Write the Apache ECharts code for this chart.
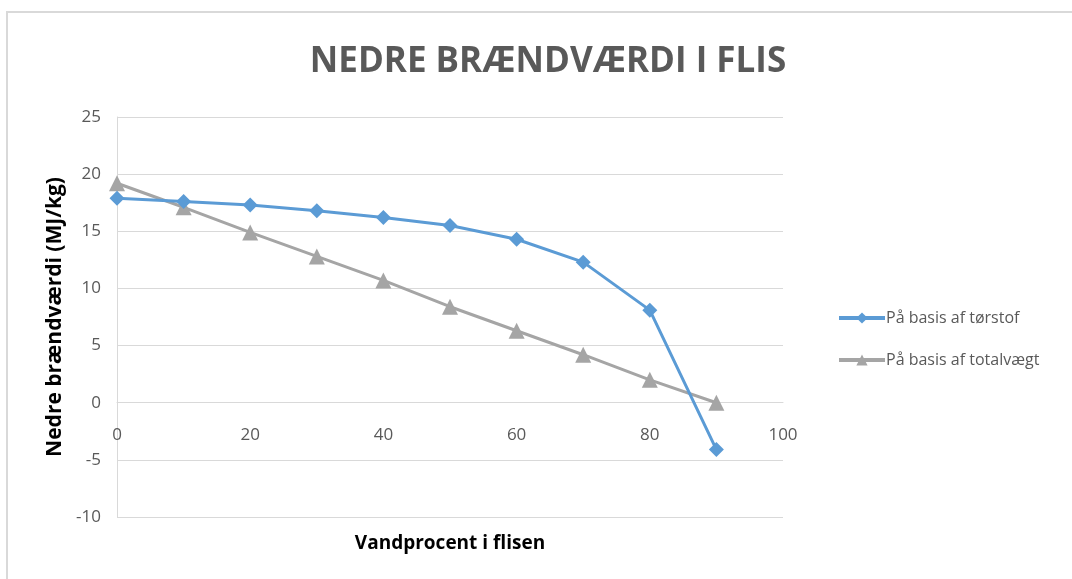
<!DOCTYPE html>
<html>
<head>
<meta charset="utf-8">
<script src="https://cdn.jsdelivr.net/npm/echarts@6/dist/echarts.min.js"></script>
<style>
  html, body { margin: 0; padding: 0; background: #fff; }
  #chart { width: 1072px; height: 579px; }
</style>
</head>
<body>
<div id="chart"></div>
<script>
// vandprocent (x) og nedre brændværdi (MJ/kg)
var vandprocent = [0, 10, 20, 30, 40, 50, 60, 70, 80, 90];
var torstof = [17.9, 17.6, 17.3, 16.8, 16.2, 15.5, 14.3, 12.3, 8.1, -4.1];
var totalvaegt = [19.2, 17.1, 14.9, 12.8, 10.7, 8.4, 6.3, 4.2, 2.0, 0];
var seriesNames = ['På basis af tørstof', 'På basis af totalvægt'];

var font = '"Open Sans", sans-serif';

function pairs(xs, ys) {
  return xs.map(function (x, i) { return [x, ys[i]]; });
}

var chart = echarts.init(document.getElementById('chart'));

// x-aksen ligger ved y = 0: flyt den op fra bunden (-10) med 2 af 7 intervaller
var plotHeight = 579 - 117 - 62;
var zeroOffset = -plotHeight * 2 / 7;

var option = {
  backgroundColor: '#fff',
  animation: false,
  title: {
    text: 'NEDRE BRÆNDVÆRDI I FLIS',
    left: 543,
    textAlign: 'center',
    top: 40,
    textStyle: { fontFamily: font, fontSize: 35, fontWeight: 'bold', color: '#595959' }
  },
  graphic: [{
    type: 'rect',
    shape: { x: 7, y: 12, width: 1200, height: 700 },
    style: { fill: 'none', stroke: '#d9d9d9', lineWidth: 2 },
    silent: true
  }],
  legend: {
    orient: 'vertical',
    left: 832,
    top: 305,
    itemGap: 26,
    itemWidth: 46,
    itemHeight: 14,
    lineStyle: { width: 4 },
    textStyle: { fontFamily: font, fontSize: 16, color: '#595959', padding: [0, 0, 0, -4] },
    data: seriesNames
  },
  grid: { left: 117, right: 289, top: 117, bottom: 62, outerBoundsMode: 'none', containLabel: false },
  xAxis: {
    type: 'value',
    position: 'bottom',
    offset: zeroOffset,
    min: 0, max: 100, interval: 20,
    name: 'Vandprocent i flisen',
    nameLocation: 'middle',
    nameGap: 131,
    nameTextStyle: { fontFamily: font, fontSize: 19, fontWeight: 'bold', color: '#000' },
    axisLine: { onZero: false, lineStyle: { color: '#d9d9d9', width: 1 } },
    axisTick: { show: false },
    splitLine: { show: false },
    axisLabel: { fontFamily: font, fontSize: 17, color: '#595959', margin: 24 }
  },
  yAxis: {
    type: 'value',
    min: -10, max: 25, interval: 5,
    name: 'Nedre brændværdi (MJ/kg)',
    nameLocation: 'middle',
    nameGap: 50,
    nameTextStyle: { fontFamily: font, fontSize: 21, fontWeight: 'bold', color: '#000' },
    axisLine: { show: true, lineStyle: { color: '#d9d9d9', width: 1 } },
    axisTick: { show: false },
    splitLine: { lineStyle: { color: '#d9d9d9', width: 1 } },
    axisLabel: { fontFamily: font, fontSize: 17, color: '#595959', margin: 16 }
  },
  series: [{
    name: seriesNames[0],
    type: 'line',
    data: pairs(vandprocent, torstof),
    symbol: 'diamond',
    symbolSize: 15,
    lineStyle: { color: '#5B9BD5', width: 3 },
    itemStyle: { color: '#5B9BD5' },
    z: 3
  }, {
    name: seriesNames[1],
    type: 'line',
    data: pairs(vandprocent, totalvaegt),
    symbol: 'triangle',
    symbolSize: 16,
    lineStyle: { color: '#A5A5A5', width: 3 },
    itemStyle: { color: '#A5A5A5' },
    z: 2
  }]
};

chart.setOption(option);

window.addEventListener('resize', function () {
  chart.resize();
});
</script>
</body>
</html>
